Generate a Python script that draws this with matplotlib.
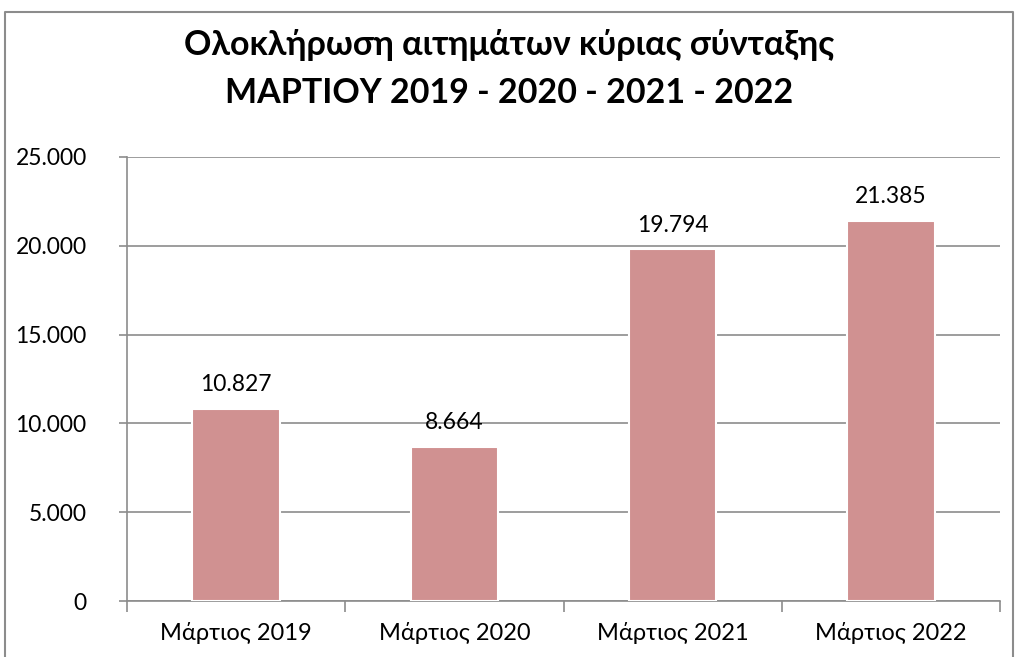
import matplotlib.pyplot as plt
from matplotlib.lines import Line2D
from matplotlib.ticker import FuncFormatter

categories = ["Μάρτιος 2019", "Μάρτιος 2020", "Μάρτιος 2021", "Μάρτιος 2022"]
values = [10827, 8664, 19794, 21385]
yticks = [0, 5000, 10000, 15000, 20000, 25000]

def fmt(v):
    return f"{int(v):,}".replace(",", ".")

plt.rcParams["font.family"] = ["Lato", "DejaVu Sans"]

fig = plt.figure(figsize=(10.18, 6.57), dpi=100)
W, H = 1018, 657
ax = fig.add_axes([127 / W, 1 - 601 / H, (1000 - 127) / W, (601 - 157) / H])

x = list(range(len(categories)))
ax.bar(x, values, width=0.4, color="#D09191", edgecolor="white", linewidth=1.5, zorder=3)
for xi, v in zip(x, values):
    ax.annotate(fmt(v), (xi, v), xytext=(0, 10), textcoords="offset points",
                ha="center", va="bottom", fontsize=16.5)

ax.set_xlim(-0.5, len(categories) - 0.5)
ax.set_ylim(0, 25000)
ax.set_yticks(yticks)
ax.yaxis.set_major_formatter(FuncFormatter(lambda v, p: fmt(v)))
ax.grid(axis="y", color="#8c8c8c", linewidth=1.2, zorder=0)
ax.set_axisbelow(True)

# category labels centered, ticks at boundaries
ax.set_xticks([i - 0.5 for i in range(len(categories) + 1)])
ax.set_xticklabels([])
ax.set_xticks(x, minor=True)
ax.set_xticklabels(categories, minor=True, fontsize=17)
ax.tick_params(axis="x", which="minor", length=0, pad=15)
ax.tick_params(axis="x", which="major", length=8, width=1.2, color="#8c8c8c", direction="out")
ax.tick_params(axis="y", length=6, width=1.2, color="#8c8c8c", labelsize=16.5, pad=23)

for s in ["top", "right"]:
    ax.spines[s].set_visible(False)
for s in ["left", "bottom"]:
    ax.spines[s].set_color("#8c8c8c")
    ax.spines[s].set_linewidth(1.2)

fig.text(0.5, 1 - 45 / H, "Ολοκλήρωση αιτημάτων κύριας σύνταξης", ha="center", va="center",
         fontsize=24.5, fontweight="bold")
fig.text(0.5, 1 - 93 / H, "ΜΑΡΤΙΟΥ 2019 - 2020 - 2021 - 2022", ha="center", va="center",
         fontsize=24.5, fontweight="bold")

# outer chart frame
fx0, fx1, fy0 = 5 / W, 1013 / W, 1 - 12 / H
fig.add_artist(Line2D([fx0, fx0, fx1, fx1], [0, fy0, fy0, 0], color="#8c8c8c", linewidth=1.5,
                      transform=fig.transFigure))

fig.savefig("out.png", dpi=100)
